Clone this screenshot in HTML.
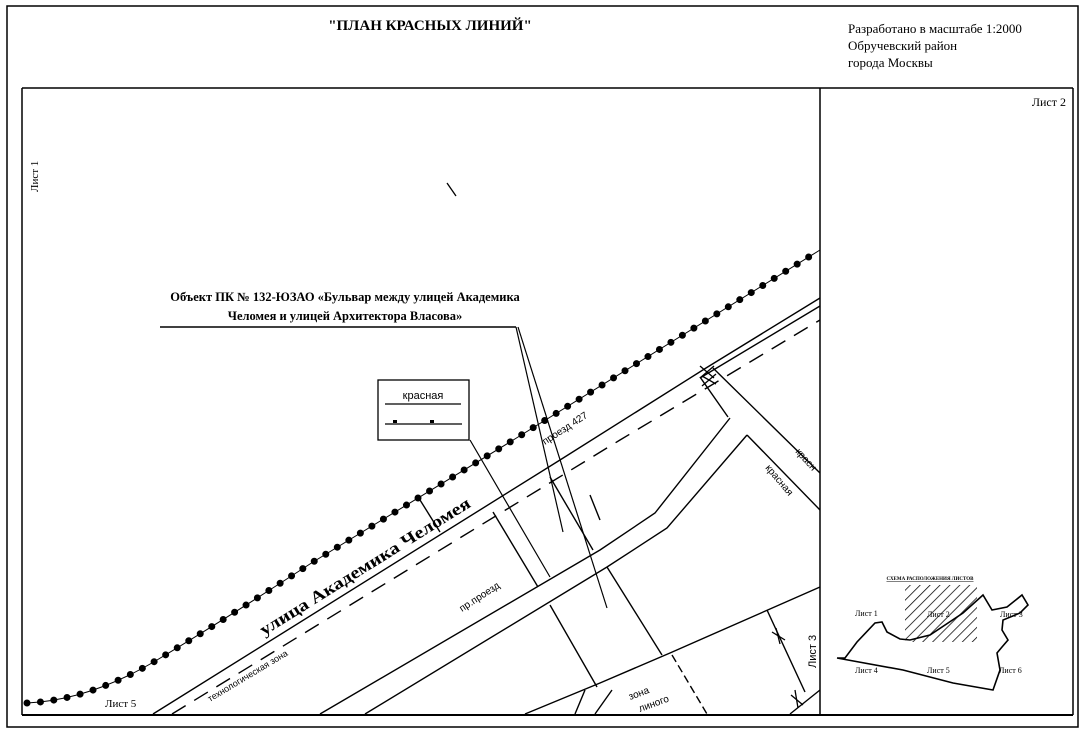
<!DOCTYPE html>
<html><head><meta charset="utf-8"><style>
html,body{margin:0;padding:0;background:#fff;}
svg{display:block;}
text{font-family:"Liberation Serif",serif;fill:#000;}
.s{font-family:"Liberation Sans",sans-serif;}
</style></head><body>
<svg width="1086" height="736" viewBox="0 0 1086 736" xmlns="http://www.w3.org/2000/svg">
<rect x="7" y="6" width="1071" height="721" fill="none" stroke="#000" stroke-width="1.5"/>
<line x1="22" y1="88" x2="1073" y2="88" stroke="#000" stroke-width="1.5"/>
<line x1="22" y1="88" x2="22" y2="715" stroke="#000" stroke-width="1.5"/>
<line x1="22" y1="715" x2="1073" y2="715" stroke="#000" stroke-width="2"/>
<line x1="1073" y1="88" x2="1073" y2="715" stroke="#000" stroke-width="1.5"/>
<line x1="820" y1="88" x2="820" y2="715" stroke="#000" stroke-width="1.5"/>

<text x="430" y="30" font-size="15" font-weight="bold" text-anchor="middle">"ПЛАН КРАСНЫХ ЛИНИЙ"</text>
<text x="848" y="33" font-size="13">Разработано в масштабе 1:2000</text>
<text x="848" y="50" font-size="13">Обручевский район</text>
<text x="848" y="67" font-size="13">города  Москвы</text>
<text x="1066" y="106" font-size="12" text-anchor="end">Лист 2</text>
<text transform="translate(38,192) rotate(-90)" font-size="11">Лист 1</text>
<text x="105" y="707" font-size="11">Лист 5</text>
<text transform="translate(816,668) rotate(-90)" font-size="11" class="s">Лист 3</text>

<!-- dotted boundary -->
<path d="M27,703 Q90,700 157,660 T313,562 L510,442 L820,250" fill="none" stroke="#000" stroke-width="1"/>
<path d="M27,703 Q90,700 157,660 T313,562 L510,442 L820,250" fill="none" stroke="#000" stroke-width="7" stroke-dasharray="0 13.5" stroke-linecap="round"/>

<!-- street lines -->
<g fill="none" stroke="#000" stroke-width="1.4">
<polyline points="153,714 560,460 706,368 820,298"/>
<polyline points="700,378 820,306"/>
<polyline points="172,714 620,440 820,320" stroke-dasharray="16 10"/>
<polyline points="320,714 600,550 655,513 730,418"/>
<polyline points="365,714 607,567 667,528 747,435"/>
<polyline points="713,368 820,473"/>
<polyline points="700,377 728,417"/>
<polyline points="747,435 820,510"/>
<polyline points="525,714 600,683 670,653 820,587"/>
<polyline points="607,567 662,655"/>
<polyline points="672,655 707,714" stroke-dasharray="8 4"/>
<polyline points="767,610 805,692"/>
<polyline points="790,714 820,690"/>
<!-- cross red-line segments -->
<polyline points="493,512 538,587"/>
<polyline points="550,605 597,687"/>
<polyline points="550,477 593,550"/>
<polyline points="420,500 440,532"/>
<polyline points="575,714 585,690"/>
<polyline points="595,714 612,690"/>
<polyline points="590,495 600,520"/>
</g>
<!-- X marks -->
<g stroke="#000" stroke-width="1.3">
<line x1="700" y1="366" x2="714" y2="378"/><line x1="714" y1="366" x2="700" y2="378"/>
<line x1="702" y1="376" x2="716" y2="384"/><line x1="716" y1="374" x2="702" y2="386"/>
<line x1="772" y1="632" x2="785" y2="640"/><line x1="776" y1="628" x2="780" y2="644"/>
<line x1="791" y1="695" x2="803" y2="705"/><line x1="795" y1="690" x2="798" y2="708"/>
<line x1="447" y1="183" x2="456" y2="196"/>
</g>

<!-- labels along roads -->
<text transform="translate(264,636) rotate(-32)" font-size="17" font-weight="bold" textLength="245" lengthAdjust="spacingAndGlyphs">улица  Академика  Челомея</text>
<text transform="translate(210,702) rotate(-31)" font-size="9" class="s">технологическая зона</text>
<text transform="translate(462,612) rotate(-33)" font-size="10" class="s">пр.проезд</text>
<text transform="translate(545,445) rotate(-33)" font-size="10" class="s">проезд 427</text>
<text transform="translate(765,468) rotate(50)" font-size="10" class="s">красная</text>
<text transform="translate(795,452) rotate(48)" font-size="10" class="s">красн</text>
<text transform="translate(630,700) rotate(-20)" font-size="10" class="s">зона</text>
<text transform="translate(640,712) rotate(-20)" font-size="10" class="s">линого</text>

<!-- object label -->
<text x="345" y="301" font-size="12.5" font-weight="bold" text-anchor="middle">Объект ПК № 132-ЮЗАО «Бульвар между улицей Академика</text>
<text x="345" y="320" font-size="12.5" font-weight="bold" text-anchor="middle">Челомея и улицей Архитектора Власова»</text>
<g stroke="#000" stroke-width="1.2" fill="none">
<line x1="160" y1="327" x2="516" y2="327" stroke-width="1.6"/>
<line x1="516" y1="327" x2="563" y2="532"/>
<line x1="518" y1="327" x2="607" y2="608"/>
<line x1="470" y1="440" x2="550" y2="577"/>
</g>

<!-- legend box -->
<rect x="378" y="380" width="91" height="60" fill="#fff" stroke="#000" stroke-width="1.3"/>
<text x="423" y="399" font-size="11" class="s" text-anchor="middle">красная</text>
<line x1="385" y1="404" x2="461" y2="404" stroke="#000" stroke-width="1.2"/>
<line x1="385" y1="424" x2="462" y2="424" stroke="#000" stroke-width="1.2"/>
<rect x="393" y="420" width="4" height="3" fill="#000"/><rect x="430" y="420" width="4" height="3" fill="#000"/>

<!-- inset scheme -->
<defs><pattern id="h" width="7" height="7" patternUnits="userSpaceOnUse" patternTransform="rotate(45)"><line x1="0" y1="0" x2="0" y2="7" stroke="#000" stroke-width="1.5"/></pattern></defs>
<text x="930" y="580" font-size="5" text-anchor="middle" text-decoration="underline" font-weight="bold">СХЕМА РАСПОЛОЖЕНИЯ ЛИСТОВ</text>
<rect x="905" y="585" width="72" height="57" fill="url(#h)"/>
<polyline points="837,658 845,658 857,642 875,623 882,622 887,632 900,639 910,640 930,635 963,613 983,595 992,610 1007,607 1022,595 1028,605 1020,613 1003,620 1002,630 1008,640 1002,647 997,653 1000,670 993,690 953,683 903,670 837,658" fill="none" stroke="#000" stroke-width="1.6"/>
<g font-size="8">
<text x="855" y="616">Лист 1</text>
<text x="927" y="617">Лист 2</text>
<text x="1000" y="617">Лист 3</text>
<text x="855" y="673">Лист 4</text>
<text x="927" y="673">Лист 5</text>
<text x="999" y="673">Лист 6</text>
</g>
</svg>
</body></html>
